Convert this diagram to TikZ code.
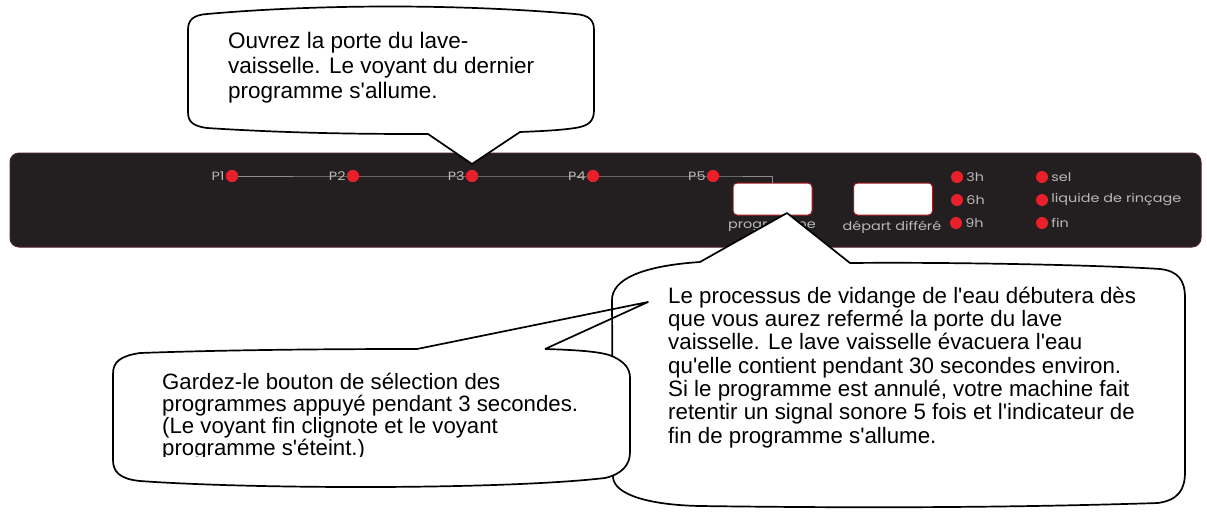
\documentclass[tikz,border=0pt]{standalone}
\usepackage{fontspec}
\setmainfont{Liberation Sans}
\newfontfamily\bubblefont{Liberation Sans}
\newfontfamily\panelfont[FakeStretch=1.2]{Poppins}
\definecolor{panelfill}{HTML}{231F20}
\definecolor{paneledge}{HTML}{4A2329}
\definecolor{ledred}{HTML}{E8202A}
\definecolor{paneltext}{HTML}{B8B8B8}
\definecolor{tracklc}{HTML}{8C8C8C}
\begin{document}
\begin{tikzpicture}[x=1pt,y=-1pt,
  led/.style={circle, fill=ledred, minimum size=12pt, inner sep=0pt},
  ptext/.style={font=\panelfont\fontsize{12}{13}\selectfont, text=paneltext, inner sep=0pt},
  btn/.style={draw=ledred!70!black, line width=1pt, fill=white, rounded corners=4pt, minimum width=79pt, minimum height=32pt, inner sep=0pt},
  bubble/.style={draw=black, line width=1.7pt, line join=round, fill=white},
  bline/.style={draw=black, line width=1.7pt, line join=round},
  btext/.style={align=left, inner sep=0pt, anchor=north west, text=black}
]
\useasboundingbox (0,0) rectangle (1207,515);
\fill[white] (0,0) rectangle (1207,515);

% ---- control panel ----
\draw[fill=panelfill, draw=paneledge, line width=1pt, rounded corners=9pt] (10,153) rectangle (1201,247);

\node[btn] (prog) at (772.5,199) {};
\node[btn] (depart) at (893,199) {};

\node[led] (p1) at (232,176) {};
\node[led] (p2) at (353,176) {};
\node[led] (p3) at (472,176) {};
\node[led] (p4) at (593,176) {};
\node[led] (p5) at (713,176) {};
\draw[tracklc, line width=0.8pt] (p1.center) -- (p2.center) -- (p3.center) -- (p4.center) -- (p5.center) -- (p5.center -| prog.north) -- (prog.north);
\foreach \p in {p1,p2,p3,p4,p5} \fill[ledred] (\p.center) circle (6pt);

\node[ptext, anchor=east] (l1) at ([xshift=-1pt]p1.west) {P1};
\node[ptext, anchor=east] (l2) at ([xshift=-1pt]p2.west) {P2};
\node[ptext, anchor=east] (l3) at ([xshift=-1pt]p3.west) {P3};
\node[ptext, anchor=east] (l4) at ([xshift=-1pt]p4.west) {P4};
\node[ptext, anchor=east] (l5) at ([xshift=-1pt]p5.west) {P5};

\node[ptext] (lprog) at (772,227) {programme};
\node[ptext] (ldep) at (892,227) {départ différé};

\node[led] (h3) at (957,177) {};
\node[led] (h6) at (957,200) {};
\node[led] (h9) at (956,223) {};
\node[ptext, anchor=west] (t3) at ([xshift=3pt]h3.east) {3h};
\node[ptext, anchor=west] (t6) at ([xshift=3pt]h6.east) {6h};
\node[ptext, anchor=west] (t9) at ([xshift=3pt]h9.east) {9h};

\node[led] (sel) at (1042,177) {};
\node[led] (rin) at (1042,200) {};
\node[led] (fin) at (1042,223) {};
\node[ptext, anchor=west] (tsel) at ([xshift=3pt]sel.east) {sel};
\node[ptext, anchor=west] (trin) at ([xshift=3pt]rin.east) {liquide de rinçage};
\node[ptext, anchor=west] (tfin) at ([xshift=3pt]fin.east) {fin};

% ---- top callout ----
\path[bubble] (520,132)
  .. controls (545,131) and (562,130) .. (575,128)
  .. controls (589,126) and (594,121) .. (594,110)
  -- (594,30)
  .. controls (594,20) and (589,15) .. (575,14)
  .. controls (460,4) and (320,4) .. (207,14)
  .. controls (193,15) and (188,20) .. (188,30)
  -- (188,112)
  .. controls (188,122) and (193,126) .. (207,128)
  .. controls (300,134) and (380,134) .. (428,134)
  -- (472,164) -- cycle;
\node[btext, font=\bubblefont\fontsize{22.5}{25}\selectfont] (ta) at (228,31.6)
  {Ouvrez la porte du lave-\\vaisselle. Le voyant du dernier\\programme s'allume.};

% ---- right callout ----
\path[bubble] (850,263)
  .. controls (950,262) and (1100,265) .. (1160,269)
  .. controls (1178,271) and (1185,280) .. (1185,298)
  -- (1185,472)
  .. controls (1185,490) and (1178,500) .. (1158,503)
  .. controls (1000,508) and (850,508) .. (700,506)
  .. controls (650,505) and (614,495) .. (613,477)
  -- (612,300)
  .. controls (612,280) and (640,266) .. (700,262)
  -- (787,213) -- cycle;
\node[btext, font=\bubblefont\fontsize{22.3}{23.3}\selectfont] (tb) at (668,286.7)
  {Le processus de vidange de l'eau débutera dès\\que vous aurez refermé la porte du lave\\vaisselle. Le lave vaisselle évacuera l'eau\\qu'elle contient pendant 30 secondes environ.\\Si le programme est annulé, votre machine fait\\retentir un signal sonore 5 fois et l'indicateur de\\fin de programme s'allume.};

% ---- left callout ----
\fill[white] (545,349)
  .. controls (580,350) and (605,352) .. (614,357)
  .. controls (624,362) and (630,368) .. (630,378)
  -- (630,452)
  .. controls (630,465) and (622,474) .. (605,478)
  .. controls (500,490) and (250,489) .. (140,481)
  .. controls (120,479) and (113,472) .. (113,460)
  -- (113,374)
  .. controls (113,362) and (120,356) .. (140,353)
  .. controls (250,349) and (380,349) .. (417,349) -- cycle;
\path[bline] (545,349)
  .. controls (580,350) and (605,352) .. (614,357)
  .. controls (624,362) and (630,368) .. (630,378)
  -- (630,452)
  .. controls (630,465) and (622,474) .. (605,478)
  .. controls (500,490) and (250,489) .. (140,481)
  .. controls (120,479) and (113,472) .. (113,460)
  -- (113,374)
  .. controls (113,362) and (120,356) .. (140,353)
  .. controls (250,349) and (380,349) .. (417,349)
  -- (648,302) -- (545,349);
\begin{scope}
\clip (100,340) rectangle (640,456);
\node[btext, font=\bubblefont\fontsize{22.2}{22}\selectfont] (tc) at (162,372.8)
  {Gardez-le bouton de sélection des\\programmes appuyé pendant 3 secondes.\\(Le voyant fin clignote et le voyant\\programme s'éteint.)};
\end{scope}
\end{tikzpicture}
\end{document}
